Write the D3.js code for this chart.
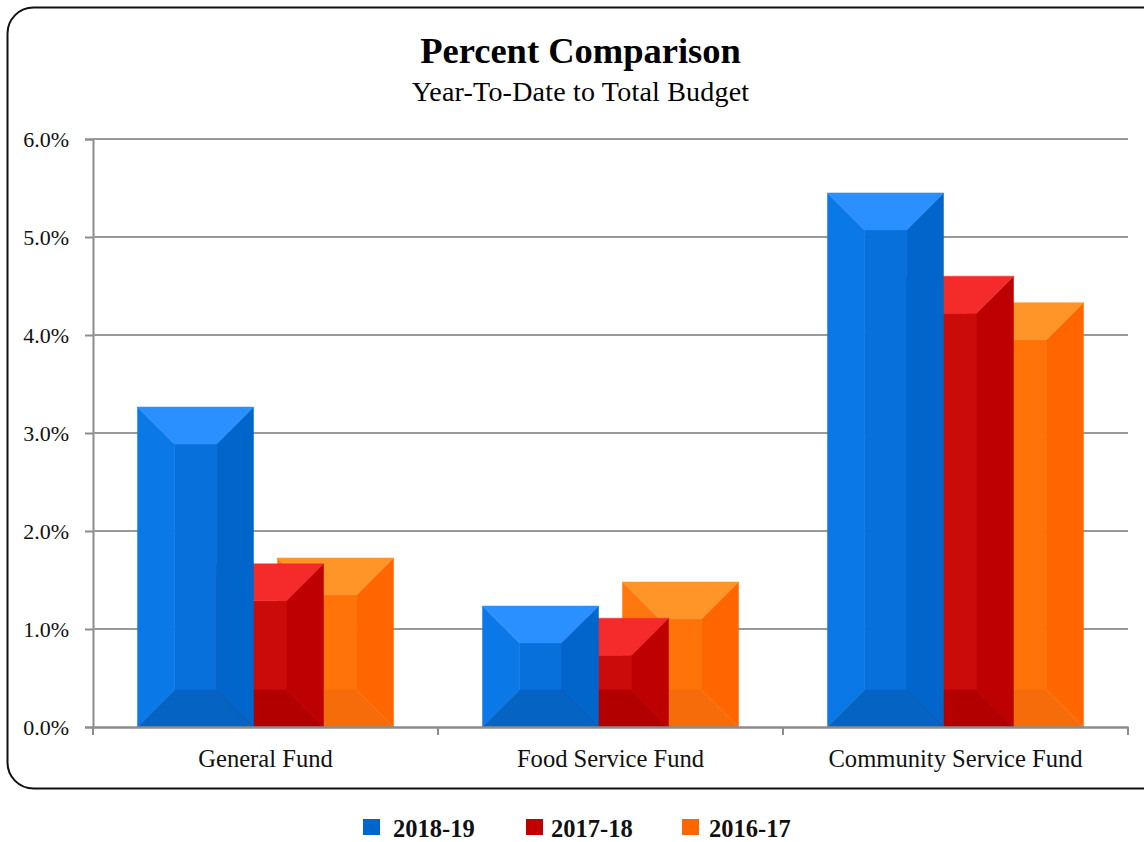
<!DOCTYPE html>
<html>
<head>
<meta charset="utf-8">
<title>Percent Comparison</title>
<script src="https://cdn.jsdelivr.net/npm/d3@7"></script>
<style>
    html, body { margin: 0; padding: 0; background: #fff; }
    svg { display: block; font-family: "Liberation Serif", serif; }
</style>
</head>
<body>
<div id="chart"></div>
<script>
// Datos
const funds = ["General Fund", "Food Service Fund", "Community Service Fund"];
const seasons = ["2018-19", "2017-18", "2016-17"];
const values2018 = [3.265, 1.235, 5.45];
const values2017 = [1.665, 1.11, 4.6];
const values2016 = [1.725, 1.48, 4.33];
const yTicks = [0, 1, 2, 3, 4, 5, 6];

const WIDTH = 1144;
const HEIGHT = 842;
const MARGIN = { top: 139, bottom: 115, left: 93, right: 16 };
const BAR_WIDTH = 116;
const BAR_STEP = 70;
const BEVEL = 37;

// colores de cada cara del bisel: lado izq, centro, lado der, arriba, abajo
const faces = {
    "2018-19": { left: "#0a78e6", center: "#0870db", right: "#0066cc", top: "#2a90ff", bottom: "#0563c4", key: "#0066cc" },
    "2017-18": { left: "#c90808", center: "#cb0a0a", right: "#bd0000", top: "#f52b2b", bottom: "#b20000", key: "#c00000" },
    "2016-17": { left: "#ff780f", center: "#ff7308", right: "#ff6600", top: "#ff9428", bottom: "#f56c0a", key: "#ff6600" },
};

const seriesValues = { "2018-19": values2018, "2017-18": values2017, "2016-17": values2016 };

const svg = d3.select("#chart")
    .append("svg")
    .attr("width", WIDTH)
    .attr("height", HEIGHT);

// Marco redondeado, se sale por la derecha como en el original
svg.append("rect")
    .attr("x", 7.5)
    .attr("y", 7.5)
    .attr("width", 1165)
    .attr("height", 781)
    .attr("rx", 26)
    .attr("fill", "#fff")
    .attr("stroke", "#111")
    .attr("stroke-width", 2);

svg.append("text")
    .attr("x", 580.5)
    .attr("y", 63)
    .attr("text-anchor", "middle")
    .attr("font-size", 36.5)
    .attr("font-weight", "bold")
    .text("Percent Comparison");

svg.append("text")
    .attr("x", 580.5)
    .attr("y", 101)
    .attr("text-anchor", "middle")
    .attr("font-size", 28)
    .attr("letter-spacing", 0.2)
    .text("Year-To-Date to Total Budget");

// Escalas
const xScale = d3.scaleBand()
    .domain(funds)
    .range([MARGIN.left, WIDTH - MARGIN.right]);

const yScale = d3.scaleLinear()
    .domain([0, 6])
    .range([HEIGHT - MARGIN.bottom, MARGIN.top]);

// Ejes
const yAxis = d3.axisLeft(yScale)
    .tickValues(yTicks)
    .tickFormat(d => d3.format(".1f")(d) + "%")
    .tickSize(8)
    .tickPadding(16);

const yGroup = svg.append("g")
    .attr("transform", `translate(${MARGIN.left}, 0)`)
    .call(yAxis);

yGroup.select(".domain").attr("stroke", "#8c8c8c").attr("stroke-width", 2);
yGroup.selectAll(".tick line").attr("stroke", "#8c8c8c").attr("stroke-width", 2);
yGroup.selectAll("text").attr("font-size", 22).attr("fill", "#111").attr("font-family", "Liberation Serif");

svg.append("g")
    .selectAll("line")
    .data(yTicks.slice(1))
    .join("line")
    .attr("x1", MARGIN.left)
    .attr("x2", WIDTH - MARGIN.right)
    .attr("y1", d => yScale(d))
    .attr("y2", d => yScale(d))
    .attr("stroke", "#999")
    .attr("stroke-width", 2);

// Barras: se dibuja de atras hacia adelante para que la azul quede encima
const offset = d3.scaleOrdinal()
    .domain(seasons)
    .range([-BAR_STEP, 0, BAR_STEP]);

const barData = [];
seasons.slice().reverse().forEach(season => {
    funds.forEach((fund, i) => {
        barData.push({ season: season, fund: fund, value: seriesValues[season][i] });
    });
});

const poly = points => "M" + points.map(p => p.join(",")).join("L") + "Z";

const bars = svg.selectAll(".barra")
    .data(barData)
    .join("g")
    .attr("class", "barra");

const faceNames = ["center", "left", "right", "top", "bottom"];

bars.selectAll("path")
    .data(d => {
        const cx = xScale(d.fund) + xScale.bandwidth() / 2 + offset(d.season);
        const x0 = cx - BAR_WIDTH / 2;
        const x1 = cx + BAR_WIDTH / 2;
        const y0 = yScale(d.value);
        const y1 = yScale(0);
        const ix0 = x0 + BEVEL;
        const ix1 = x1 - BEVEL;
        const iy0 = y0 + BEVEL;
        const iy1 = y1 - BEVEL;
        const shapes = {
            center: [[ix0, iy0], [ix1, iy0], [ix1, iy1], [ix0, iy1]],
            left: [[x0, y0], [ix0, iy0], [ix0, iy1], [x0, y1]],
            right: [[x1, y0], [ix1, iy0], [ix1, iy1], [x1, y1]],
            top: [[x0, y0], [x1, y0], [ix1, iy0], [ix0, iy0]],
            bottom: [[x0, y1], [x1, y1], [ix1, iy1], [ix0, iy1]],
        };
        return faceNames.map(name => ({ d: poly(shapes[name]), fill: faces[d.season][name] }));
    })
    .join("path")
    .attr("d", d => d.d)
    .attr("fill", d => d.fill)
    .attr("stroke", d => d.fill)
    .attr("stroke-width", 0.5);

const xAxis = d3.axisBottom(xScale)
    .tickSize(0)
    .tickPadding(23);

const xGroup = svg.append("g")
    .attr("transform", `translate(0, ${yScale(0)})`)
    .call(xAxis);

xGroup.select(".domain").attr("stroke", "#8c8c8c").attr("stroke-width", 2.5);
xGroup.selectAll("text").attr("font-size", 24.6).attr("fill", "#111").attr("font-family", "Liberation Serif");

// marcas entre categorias
xGroup.selectAll(".sep")
    .data(funds.map(f => xScale(f)).concat([WIDTH - MARGIN.right]))
    .join("line")
    .attr("class", "sep")
    .attr("x1", d => d)
    .attr("x2", d => d)
    .attr("y1", 0)
    .attr("y2", 8)
    .attr("stroke", "#8c8c8c")
    .attr("stroke-width", 2);

// Leyenda
const legendKeyX = d3.scaleOrdinal().domain(seasons).range([363, 526, 682]);
const legendTextX = d3.scaleOrdinal().domain(seasons).range([393, 551, 709]);

const legend = svg.selectAll(".leyenda")
    .data(seasons)
    .join("g")
    .attr("class", "leyenda");

legend.append("rect")
    .attr("x", d => legendKeyX(d))
    .attr("y", 819)
    .attr("width", 17)
    .attr("height", 16)
    .attr("fill", d => faces[d].key);

legend.append("text")
    .attr("x", d => legendTextX(d))
    .attr("y", 836.5)
    .attr("font-size", 24.5)
    .attr("font-weight", "bold")
    .attr("fill", "#111")
    .text(d => d);
</script>
</body>
</html>
